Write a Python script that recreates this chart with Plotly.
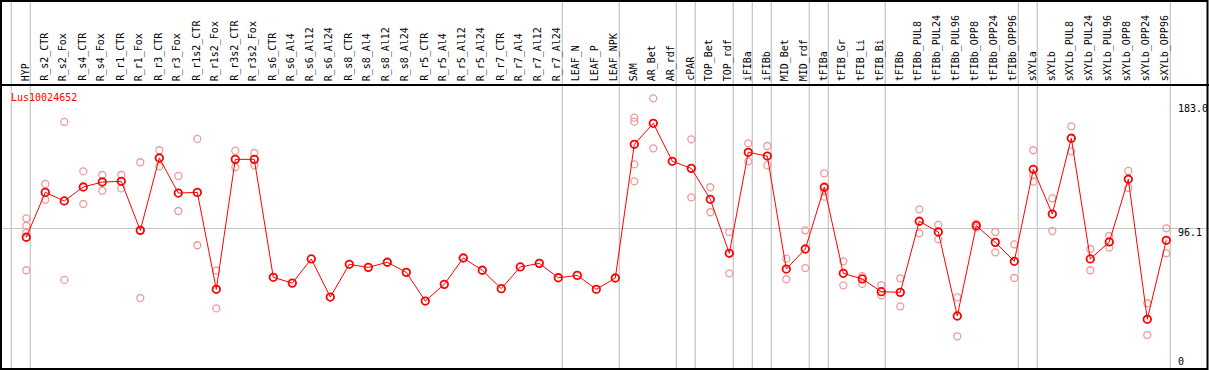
import plotly.graph_objects as go

categories = ["HYP", "R_s2_CTR", "R_s2_Fox", "R_s4_CTR", "R_s4_Fox", "R_r1_CTR", "R_r1_Fox",
              "R_r3_CTR", "R_r3_Fox", "R_r1s2_CTR", "R_r1s2_Fox", "R_r3s2_CTR", "R_r3s2_Fox",
              "R_s6_CTR", "R_s6_Al4", "R_s6_Al12", "R_s6_Al24", "R_s8_CTR", "R_s8_Al4",
              "R_s8_Al12", "R_s8_Al24", "R_r5_CTR", "R_r5_Al4", "R_r5_Al12", "R_r5_Al24",
              "R_r7_CTR", "R_r7_Al4", "R_r7_Al12", "R_r7_Al24", "LEAF_N", "LEAF_P", "LEAF_NPK",
              "SAM", "AR_Bet", "AR_rdf", "cPAR", "TOP_Bet", "TOP_rdf", "iFIBa", "iFIBb",
              "MID_Bet", "MID_rdf", "tFIBa", "tFIB_Gr", "tFIB_Li", "tFIB_Bi", "tFIBb",
              "tFIBb_PUL8", "tFIBb_PUL24", "tFIBb_PUL96", "tFIBb_OPP8", "tFIBb_OPP24",
              "tFIBb_OPP96", "sXYLa", "sXYLb", "sXYLb_PUL8", "sXYLb_PUL24", "sXYLb_PUL96",
              "sXYLb_OPP8", "sXYLb_OPP24", "sXYLb_OPP96"]

mean_values = [89.6, 122.1, 115.9, 126.0, 129.6, 130.1, 94.6, 147.0, 121.6, 122.1, 51.9,
               146.0, 146.0, 60.6, 56.4, 73.9, 46.3, 70.0, 67.8, 71.5, 64.2, 43.4, 55.5,
               74.6, 65.7, 52.4, 68.1, 70.7, 60.3, 62.0, 51.9, 60.1, 156.9, 172.1, 144.6,
               139.5, 117.1, 78.0, 151.1, 148.4, 66.6, 81.1, 125.8, 63.5, 59.4, 50.2, 49.7,
               101.2, 93.4, 32.6, 98.0, 85.9, 72.2, 138.8, 106.4, 161.3, 73.9, 86.2, 131.6,
               30.2, 87.4]

replicates = [
    [103.3, 97.8, 93.0, 65.7],      # HYP
    [128.2, 116.8],                 # R_s2_CTR
    [173.1, 58.7],                  # R_s2_Fox
    [137.3, 113.7],                 # R_s4_CTR
    [134.7, 123.3],                 # R_s4_Fox
    [134.7, 125.0],                 # R_r1_CTR
    [143.9, 45.6],                  # R_r1_Fox
    [152.6, 141.0],                 # R_r3_CTR
    [134.0, 108.6],                 # R_r3_Fox
    [160.8, 83.8],                  # R_r1s2_CTR
    [65.4, 38.1],                   # R_r1s2_Fox
    [152.3, 140.3],                 # R_r3s2_CTR
    [150.6, 141.7],                 # R_r3s2_Fox
    [], [], [], [], [], [], [], [], [], [], [], [], [], [], [], [], [], [], [],
    [176.2, 173.3, 142.4, 130.1],   # SAM
    [190.2, 154.0],                 # AR_Bet
    [],                             # AR_rdf
    [160.5, 118.5],                 # cPAR
    [125.8, 107.7],                 # TOP_Bet
    [93.4, 63.5],                   # TOP_rdf
    [157.6, 144.6],                 # iFIBa
    [155.7, 141.7],                 # iFIBb
    [74.1, 59.2],                   # MID_Bet
    [94.6, 67.3],                   # MID_rdf
    [135.9, 122.5, 119.0],          # tFIBa
    [72.2, 54.8],                   # tFIB_Gr
    [61.5, 55.8],                   # tFIB_Li
    [55.0, 47.6],                   # tFIB_Bi
    [59.9, 39.6],                   # tFIBb
    [109.8, 92.5],                  # tFIBb_PUL8
    [98.5, 88.1],                   # tFIBb_PUL24
    [46.1, 17.9],                   # tFIBb_PUL96
    [99.3, 96.7],                   # tFIBb_OPP8
    [93.4, 78.7],                   # tFIBb_OPP24
    [84.5, 60.1],                   # tFIBb_OPP96
    [152.6, 134.7, 129.9],          # sXYLa
    [117.8, 94.1],                  # sXYLb
    [169.9, 151.8],                 # sXYLb_PUL8
    [81.1, 65.7],                   # sXYLb_PUL24
    [90.5, 82.1],                   # sXYLb_PUL96
    [137.6, 125.3],                 # sXYLb_OPP8
    [41.8, 18.8],                   # sXYLb_OPP24
    [96.1, 78.0],                   # sXYLb_OPP96
]

group_ends = [-1, 0, 28, 31, 34, 35, 37, 38, 39, 41, 42, 45, 52, 53, 60]
grid_value = 96.1
scale_ticks = [183.0, 96.1, 0]
scale_labels = ["183.0", "96.1", "0"]
gene_name = "Lus10024652"

W, H = 1209, 370
FONT = "DejaVu Sans Mono"

rep_x, rep_y = [], []
for cat, reps in zip(categories, replicates):
    for v in reps:
        rep_x.append(cat)
        rep_y.append(v)

fig = go.Figure()
fig.add_trace(go.Scatter(
    x=rep_x, y=rep_y, mode="markers",
    marker=dict(symbol="circle-open", size=7, color="#f09a9a", line=dict(width=1.3)),
    hoverinfo="skip"))
fig.add_trace(go.Scatter(
    x=categories, y=mean_values, mode="lines+markers",
    line=dict(color="#ff0000", width=1),
    marker=dict(symbol="circle-open", size=7.5, color="#ff0000", line=dict(width=1.8))))

shapes = []
for k in group_ends:
    shapes.append(dict(type="line", xref="x", yref="paper", x0=k + 0.21, x1=k + 0.21,
                       y0=0, y1=1, line=dict(color="#c4c4c4", width=1.2), layer="below"))
# header separator and frame
shapes.append(dict(type="line", xref="paper", yref="paper", x0=0, x1=1,
                   y0=1 - 85 / H, y1=1 - 85 / H, line=dict(color="black", width=2)))
shapes.append(dict(type="rect", xref="paper", yref="paper", x0=1 / W, x1=(W - 1.5) / W,
                   y0=1 / H, y1=1 - 1 / H, line=dict(color="black", width=2)))

annotations = []
for cat in categories:
    annotations.append(dict(x=cat, xref="x", y=1 - 83 / H, yref="paper", text=cat,
                            showarrow=False, textangle=-90, xanchor="center", yanchor="bottom",
                            xshift=-1, font=dict(family=FONT, size=10, color="black")))
for v, lab, ys in zip(scale_ticks, scale_labels, [0, -4, 0]):
    annotations.append(dict(x=1176 / W, xref="paper", y=v, yref="y", text=lab,
                            showarrow=False, xanchor="left", yanchor="middle", yshift=ys,
                            font=dict(family=FONT, size=10, color="black")))
annotations.append(dict(x=9 / W, xref="paper", y=1 - 97.5 / H, yref="paper", text=gene_name,
                        showarrow=False, xanchor="left", yanchor="middle",
                        font=dict(family=FONT, size=10, color="#ff0000")))

x0 = -26.3 / 19
fig.update_layout(
    width=W, height=H, margin=dict(l=0, r=0, t=0, b=0),
    paper_bgcolor="white", plot_bgcolor="white", showlegend=False,
    xaxis=dict(type="category", categoryorder="array", categoryarray=categories,
               range=[x0, x0 + W / 19], showgrid=False, zeroline=False,
               showticklabels=False, ticks="", showline=False, fixedrange=True),
    yaxis=dict(domain=[1 - 369 / H, 1 - 85 / H], range=[-8 / 1.381, 276 / 1.381],
               tickvals=[grid_value], showgrid=True, gridcolor="#c4c4c4", gridwidth=1.2,
               zeroline=False, showticklabels=False, ticks="", showline=False, fixedrange=True),
    shapes=shapes, annotations=annotations,
)

fig.write_html("out.html", config={"displayModeBar": False},
               post_script="document.body.style.margin='0';"
                           "document.body.style.overflow='hidden';")
